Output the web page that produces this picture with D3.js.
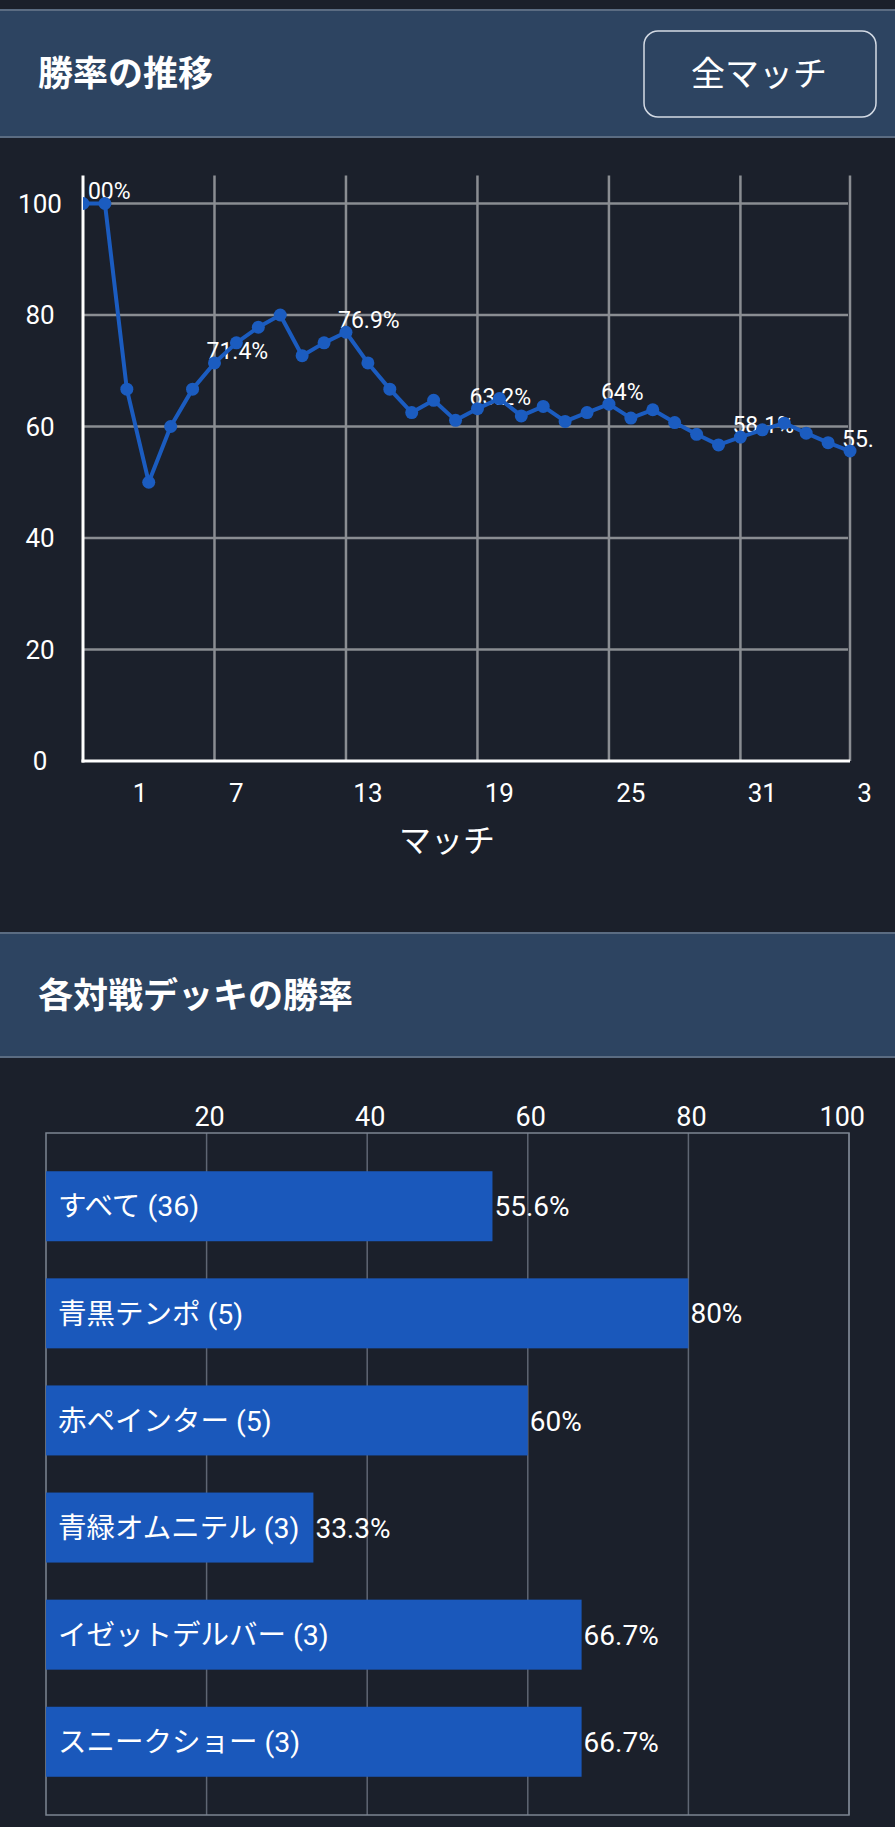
<!DOCTYPE html>
<html>
<head>
<meta charset="utf-8">
<script src="https://cdn.jsdelivr.net/npm/d3@7"></script>
<style>
  html, body { margin: 0; padding: 0; background: #1b202b; }
  svg { display: block; }
  text { font-family: Roboto, "Noto Sans CJK JP", sans-serif; fill: #ffffff; }
</style>
</head>
<body>
<svg id="chart" width="895" height="1827"></svg>
<script>
// ---------- data ----------
const lineTitle = "勝率の推移";
const buttonLabel = "全マッチ";
const barTitle = "各対戦デッキの勝率";
const xAxisTitle = "マッチ";

// cumulative win rate (%) after each match (36 matches)
const winRates = [100, 100, 66.7, 50, 60, 66.7, 71.4, 75, 77.8, 80, 72.7, 75,
  76.9, 71.4, 66.7, 62.5, 64.7, 61.1, 63.2, 65, 61.9, 63.6, 60.9, 62.5,
  64, 61.5, 63, 60.7, 58.6, 56.7, 58.1, 59.4, 60.6, 58.8, 57.1, 55.6];
// indices of points carrying a value label
const labeledPoints = [0, 6, 12, 18, 24, 30, 35];
const yTicks = [0, 20, 40, 60, 80, 100];
const xGridTicks = [0, 6, 12, 18, 24, 30];
const xTickLabels = ["1", "7", "13", "19", "25", "31", "36"];
const xTickPositions = [2.6, 7, 13, 19, 25, 31, 36];

const deckNames = ["すべて", "青黒テンポ", "赤ペインター", "青緑オムニテル", "イゼットデルバー", "スニークショー"];
const deckCounts = [36, 5, 5, 3, 3, 3];
const deckWinRates = [55.6, 80, 60, 33.3, 66.7, 66.7];
const barTicks = [20, 40, 60, 80, 100];

// ---------- style ----------
const C = {
  bg: "#1b202b", header: "#2d4461", headerLine: "#5b6c82",
  grid: "#8a8d92", axis: "#ffffff", blue: "#1b5cc0", bar: "#1a58bb",
  barGrid: "#5f6673"
};

const svg = d3.select("#chart");
svg.append("rect").attr("width", 895).attr("height", 1827).attr("fill", C.bg);

function header(y0, y1, title) {
  svg.append("rect").attr("x", 0).attr("y", y0).attr("width", 895).attr("height", y1 - y0).attr("fill", C.header);
  svg.append("line").attr("x1", 0).attr("x2", 895).attr("y1", y0).attr("y2", y0).attr("stroke", C.headerLine).attr("stroke-width", 2);
  svg.append("line").attr("x1", 0).attr("x2", 895).attr("y1", y1).attr("y2", y1).attr("stroke", C.headerLine).attr("stroke-width", 2);
  svg.append("text").attr("x", 38).attr("y", (y0 + y1) / 2).attr("dy", "0.36em")
    .style("font-family", "'Noto Sans CJK JP', sans-serif")
    .attr("font-size", 35).attr("font-weight", 700).text(title);
}

// ---------- header 1 ----------
header(10, 137, lineTitle);
svg.append("rect").attr("x", 644).attr("y", 31).attr("width", 232).attr("height", 86)
  .attr("rx", 14).attr("fill", C.header).attr("stroke", "#d3dae4").attr("stroke-width", 1.5);
svg.append("text").attr("x", 759).attr("y", 74).attr("dy", "0.36em").attr("text-anchor", "middle")
  .style("font-family", "'Noto Sans CJK JP', sans-serif").attr("font-size", 34).text(buttonLabel);

// ---------- line chart ----------
const x = d3.scaleLinear().domain([0, winRates.length - 1]).range([83, 850]);
const y = d3.scaleLinear().domain([0, 105]).range([761, 175.6]);

const defs = svg.append("defs");
defs.append("clipPath").attr("id", "plotClip").append("rect")
  .attr("x", 86).attr("y", 140).attr("width", 787).attr("height", 700);
defs.append("clipPath").attr("id", "pointClip").append("rect")
  .attr("x", 83).attr("y", 140).attr("width", 790).attr("height", 700);

const gGrid = svg.append("g");
gGrid.selectAll("line.h").data(yTicks.filter(d => d > 0)).join("line")
  .attr("x1", x(0)).attr("x2", x(winRates.length - 1) - 2)
  .attr("y1", d => y(d)).attr("y2", d => y(d))
  .attr("stroke", C.grid).attr("stroke-width", 2.5);
gGrid.selectAll("line.v").data(xGridTicks.filter(d => d > 0).concat([winRates.length - 1])).join("line")
  .attr("x1", d => x(d)).attr("x2", d => x(d))
  .attr("y1", y(105)).attr("y2", y(0))
  .attr("stroke", C.grid).attr("stroke-width", 2.5);

// axes
svg.append("line").attr("x1", x(0)).attr("x2", x(0)).attr("y1", y(105)).attr("y2", y(0) + 1.5)
  .attr("stroke", C.axis).attr("stroke-width", 3);
svg.append("line").attr("x1", x(0) - 1.5).attr("x2", x(winRates.length - 1)).attr("y1", y(0)).attr("y2", y(0))
  .attr("stroke", C.axis).attr("stroke-width", 3);

// y tick labels
svg.append("g").selectAll("text").data(yTicks).join("text")
  .attr("x", 40).attr("y", d => y(d)).attr("dy", "0.36em").attr("text-anchor", "middle")
  .attr("font-size", 26).text(d => d);

// x tick labels (clipped at right like the original)
svg.append("g").attr("clip-path", "url(#plotClip)").selectAll("text").data(xTickLabels).join("text")
  .attr("x", (d, i) => x(xTickPositions[i])).attr("y", 793).attr("dy", "0.36em")
  .attr("text-anchor", "middle").attr("font-size", 26).text(d => d);

svg.append("text").attr("x", 447).attr("y", 840).attr("dy", "0.36em").attr("text-anchor", "middle")
  .style("font-family", "'Noto Sans CJK JP', sans-serif").attr("font-size", 32).text(xAxisTitle);

// value labels (under line & points)
const fmt = v => (+v.toFixed(1)) + "%";
svg.append("g").attr("clip-path", "url(#plotClip)").selectAll("text").data(labeledPoints).join("text")
  .attr("x", i => x(i) - 8).attr("y", i => y(winRates[i]) - 4)
  .attr("font-size", 23).text(i => fmt(winRates[i]));

const gLine = svg.append("g").attr("clip-path", "url(#pointClip)");
gLine.append("path").datum(winRates)
  .attr("d", d3.line().x((d, i) => x(i)).y(d => y(d)))
  .attr("fill", "none").attr("stroke", C.blue).attr("stroke-width", 4).attr("stroke-linejoin", "round");
gLine.selectAll("circle").data(winRates).join("circle")
  .attr("cx", (d, i) => x(i)).attr("cy", d => y(d)).attr("r", 6.5).attr("fill", C.blue);

// ---------- header 2 ----------
header(933, 1057, barTitle);

// ---------- bar chart ----------
const bx = d3.scaleLinear().domain([0, 100]).range([46, 849]);
const by = d3.scaleBand().domain(deckNames).range([1133, 1815]).paddingInner(0.3464).paddingOuter(0.357);

svg.append("g").selectAll("line").data(barTicks).join("line")
  .attr("x1", d => bx(d)).attr("x2", d => bx(d)).attr("y1", 1133).attr("y2", 1815)
  .attr("stroke", C.barGrid).attr("stroke-width", 1.5);
svg.append("rect").attr("x", bx(0)).attr("y", 1133).attr("width", bx(100) - bx(0)).attr("height", 682)
  .attr("fill", "none").attr("stroke", "#7d8592").attr("stroke-width", 1.5);

svg.append("g").selectAll("text").data(barTicks).join("text")
  .attr("x", d => d === 100 ? bx(d) + 16 : bx(d) + 3).attr("y", 1116).attr("dy", "0.36em")
  .attr("text-anchor", d => d === 100 ? "end" : "middle")
  .attr("font-size", 27).text(d => d);

svg.append("g").selectAll("rect").data(deckNames).join("rect")
  .attr("x", bx(0)).attr("y", d => by(d)).attr("width", (d, i) => bx(deckWinRates[i]) - bx(0))
  .attr("height", by.bandwidth()).attr("fill", C.bar);

svg.append("g").selectAll("text").data(deckNames).join("text")
  .attr("x", bx(0) + 12).attr("y", d => by(d) + by.bandwidth() / 2).attr("dy", "0.36em")
  .attr("font-size", 28.5).text((d, i) => `${d} (${deckCounts[i]})`);

svg.append("g").selectAll("text").data(deckNames).join("text")
  .attr("x", (d, i) => bx(deckWinRates[i]) + 2).attr("y", d => by(d) + by.bandwidth() / 2).attr("dy", "0.36em")
  .attr("font-size", 28).text((d, i) => fmt(deckWinRates[i]));
</script>
</body>
</html>
